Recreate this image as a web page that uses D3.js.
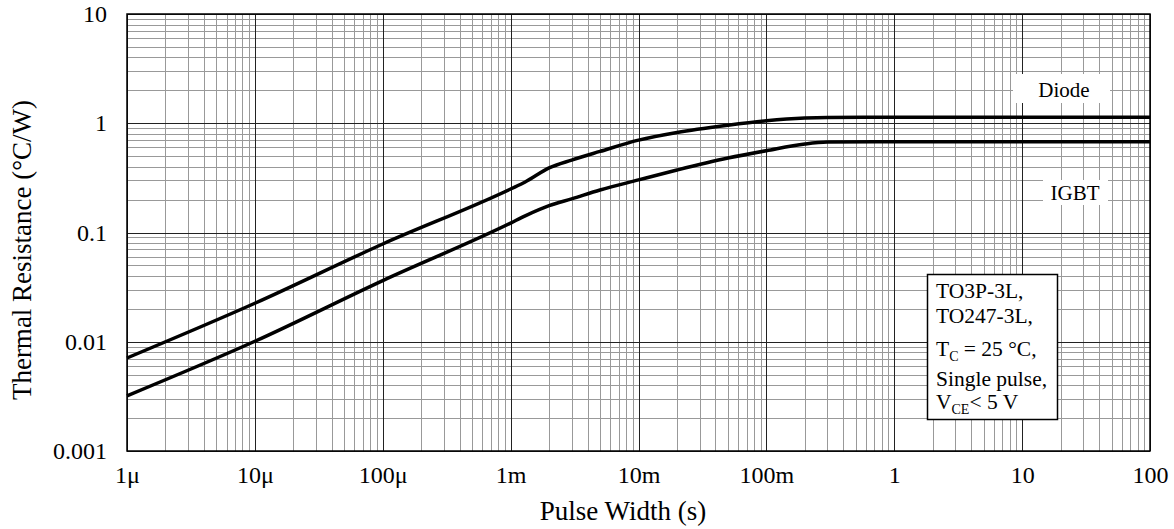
<!DOCTYPE html>
<html><head><meta charset="utf-8">
<script src="https://cdn.jsdelivr.net/npm/d3@7/dist/d3.min.js"></script>
<style>
body{margin:0;background:#fff;}
svg text{font-family:"Liberation Serif","Times New Roman",serif;fill:#000;}
</style></head>
<body><svg id="c" width="1174" height="529"></svg>
<script>
// Data
const pulseWidth = [1e-6,1e-5,1e-4,1e-3,1.3e-3,2e-3,3e-3,5e-3,1e-2,2e-2,5e-2,1e-1,2e-1,3e-1,1,3,10,100];
const diode      = [0.0071,0.0225,0.0785,0.25,0.29,0.39,0.46,0.552,0.70,0.824,0.96,1.054,1.116,1.13,1.134,1.134,1.134,1.134];
const igbt       = [0.0032,0.0101,0.0363,0.122,0.142,0.176,0.203,0.245,0.303,0.373,0.48,0.561,0.646,0.672,0.678,0.678,0.678,0.678];
const xTickValues = [1e-6,1e-5,1e-4,1e-3,1e-2,1e-1,1,10,100];
const xTickLabels = ["1μ","10μ","100μ","1m","10m","100m","1","10","100"];
const yTickValues = [0.001,0.01,0.1,1,10];
const yTickLabels = ["0.001","0.01","0.1","1","10"];
const noteLines = ["TO3P-3L,","TO247-3L,","T|C| = 25 °C,","Single pulse,","V|CE|< 5 V"];

const svg = d3.select("#c");
const L=127,R=1150,T=14,B=451;
const x = d3.scaleLog().domain([1e-6,100]).range([L,R]);
const y = d3.scaleLog().domain([0.001,10]).range([B,T]);

const minorX=[],minorY=[];
for(let e=-6;e<2;e++) for(let m=2;m<10;m++) minorX.push(m*Math.pow(10,e));
for(let e=-3;e<1;e++) for(let m=2;m<10;m++) minorY.push(m*Math.pow(10,e));

const g = svg.append("g");
g.selectAll(".mx").data(minorX).enter().append("line")
 .attr("x1",d=>Math.round(x(d))+0.5).attr("x2",d=>Math.round(x(d))+0.5).attr("y1",T).attr("y2",B)
 .attr("stroke","#999").attr("stroke-width",1);
g.selectAll(".my").data(minorY).enter().append("line")
 .attr("y1",d=>Math.round(y(d))+0.5).attr("y2",d=>Math.round(y(d))+0.5).attr("x1",L).attr("x2",R)
 .attr("stroke","#999").attr("stroke-width",1);
g.selectAll(".Mx").data(xTickValues).enter().append("line")
 .attr("x1",d=>Math.round(x(d))+0.5).attr("x2",d=>Math.round(x(d))+0.5).attr("y1",T).attr("y2",B)
 .attr("stroke","#222").attr("stroke-width",1);
g.selectAll(".My").data(yTickValues).enter().append("line")
 .attr("y1",d=>Math.round(y(d))+0.5).attr("y2",d=>Math.round(y(d))+0.5).attr("x1",L).attr("x2",R)
 .attr("stroke","#222").attr("stroke-width",1);

// label background boxes
svg.append("rect").attr("x",1013).attr("y",74).attr("width",97).attr("height",29).attr("fill","#fff");
svg.append("text").attr("x",1064).attr("y",97).attr("text-anchor","middle").attr("font-size",21).text("Diode");
svg.append("rect").attr("x",1043).attr("y",180).attr("width",65).attr("height",25).attr("fill","#fff");
svg.append("text").attr("x",1075).attr("y",200).attr("text-anchor","middle").attr("font-size",21).text("IGBT");

// curves
const line = d3.line().x(d=>x(d[0])).y(d=>y(d[1])).curve(d3.curveMonotoneX);
svg.append("path").datum(pulseWidth.map((t,i)=>[t,diode[i]])).attr("d",line)
 .attr("fill","none").attr("stroke","#000").attr("stroke-width",3.5).attr("stroke-linejoin","round");
svg.append("path").datum(pulseWidth.map((t,i)=>[t,igbt[i]])).attr("d",line)
 .attr("fill","none").attr("stroke","#000").attr("stroke-width",3.5).attr("stroke-linejoin","round");

// frame
svg.append("rect").attr("x",L).attr("y",T).attr("width",R-L).attr("height",B-T)
 .attr("fill","none").attr("stroke","#000").attr("stroke-width",1.5);

// axes
const xa = svg.append("g").attr("transform",`translate(0,${B})`)
 .call(d3.axisBottom(x).tickValues(xTickValues).tickFormat((d,i)=>xTickLabels[i]).tickSize(0).tickPadding(15));
xa.select(".domain").remove();
xa.selectAll("text").attr("font-size",24).attr("font-family","Liberation Serif");
const ya = svg.append("g").attr("transform",`translate(${L},0)`)
 .call(d3.axisLeft(y).tickValues(yTickValues).tickFormat((d,i)=>yTickLabels[i]).tickSize(0).tickPadding(20));
ya.select(".domain").remove();
ya.selectAll("text").attr("font-size",24).attr("font-family","Liberation Serif");

svg.append("text").attr("x",623).attr("y",520).attr("text-anchor","middle").attr("font-size",27).text("Pulse Width (s)");
svg.append("text").attr("transform","translate(31,250) rotate(-90)").attr("text-anchor","middle").attr("font-size",27).text("Thermal Resistance (°C/W)");

// note box
svg.append("rect").attr("x",927.5).attr("y",274.5).attr("width",130).attr("height",145)
 .attr("fill","#fff").attr("stroke","#000").attr("stroke-width",1.5);
const baselines=[298,323,356,386,409];
noteLines.forEach((s,i)=>{
  const t = svg.append("text").attr("x",936).attr("y",baselines[i]).attr("font-size",21.5);
  const parts = s.split("|");
  parts.forEach((p,j)=>{
    if(j%2===1) t.append("tspan").attr("font-size",14).attr("dy",5).text(p);
    else t.append("tspan").attr("dy", j>0? -5:0).text(p);
  });
});
</script></body></html>
